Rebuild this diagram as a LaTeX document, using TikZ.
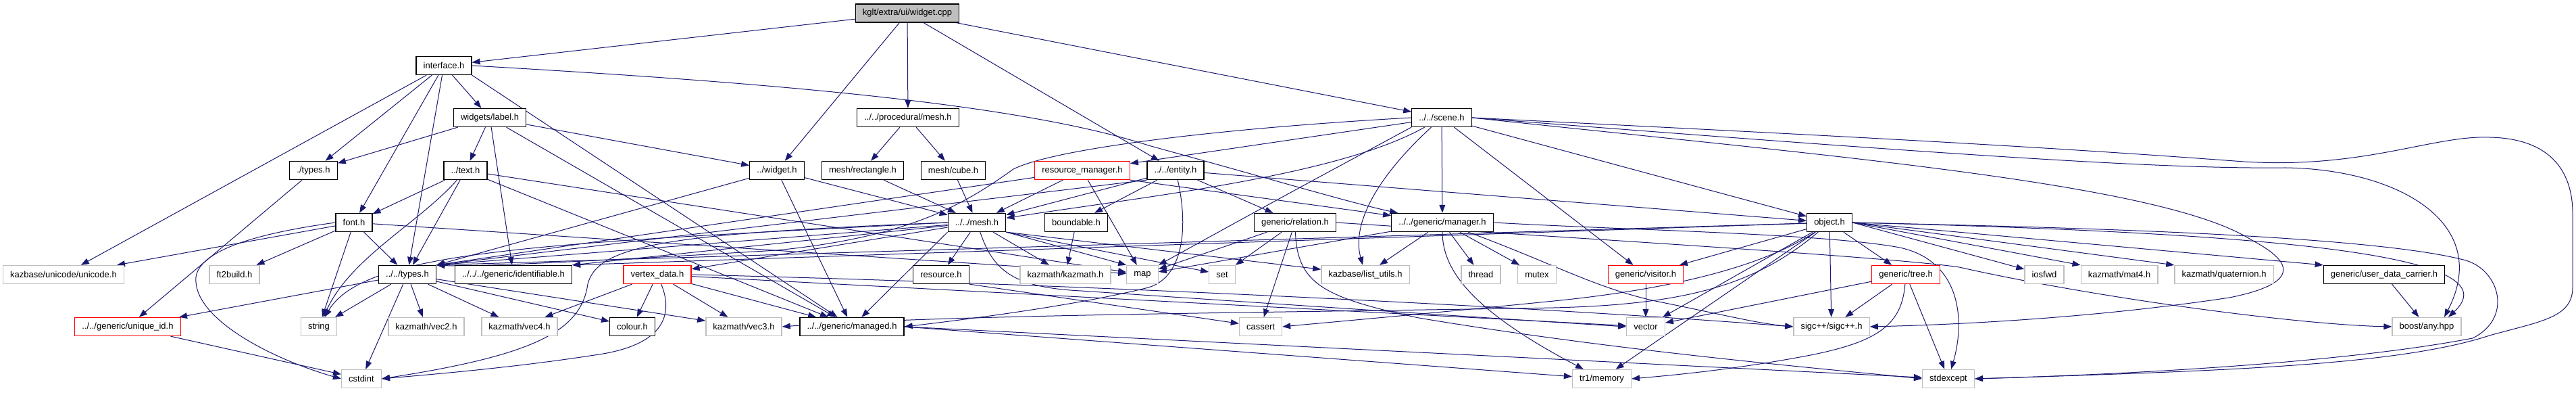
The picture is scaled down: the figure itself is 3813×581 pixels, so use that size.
\documentclass[tikz,border=0pt]{standalone}
\usepackage{fontspec}
\setmainfont{Liberation Sans}
\usetikzlibrary{arrows.meta,backgrounds}
\definecolor{edgeblue}{RGB}{25,25,112}
\definecolor{extgrey}{RGB}{191,191,191}
\definecolor{truncred}{RGB}{255,0,0}
\tikzset{
  hdr/.style={draw=black,line width=0.65pt,fill=white,minimum height=13.5pt,inner xsep=5.3pt,inner ysep=0pt,font=\fontsize{6.5pt}{7.5pt}\selectfont},
  ext/.style={hdr,draw=extgrey},
  trunc/.style={hdr,draw=truncred},
  root/.style={hdr,fill=extgrey},
  inc/.style={-{Triangle[length=6pt,width=4.4pt]},draw=edgeblue,line width=0.5pt}
}

\begin{document}
\begin{tikzpicture}[x=0.5pt,y=-0.5pt]
\useasboundingbox (0,0) rectangle (3813,581);
% rank 0-3
\node[root] (cpp) at (1343,19.5) {kglt/extra/ui/widget.cpp};
\node[hdr] (iface) at (657,97) {interface.h};
\node[hdr] (lbl) at (725,174) {widgets/label.h};
\node[hdr] (procmesh) at (1344,174) {../../procedural/mesh.h};
\node[hdr] (scene) at (2134,174) {../../scene.h};
\node[hdr] (ltypes) at (464,252) {./types.h};
\node[hdr] (txt) at (689,252) {../text.h};
\node[hdr] (widget) at (1150,252) {../widget.h};
\node[hdr] (rect) at (1277,252) {mesh/rectangle.h};
\node[hdr] (cube) at (1411,252) {mesh/cube.h};
\node[trunc] (resmgr) at (1602,252) {resource\_manager.h};
\node[hdr] (entity) at (1740,252) {../../entity.h};
% rank 4
\node[hdr] (fnt) at (524,329) {font.h};
\node[hdr] (mesh) at (1446,329) {../../mesh.h};
\node[hdr] (bound) at (1593,329) {boundable.h};
\node[hdr] (relation) at (1917,329) {generic/relation.h};
\node[hdr] (manager) at (2135,329) {../../generic/manager.h};
\node[hdr] (object) at (2708,329) {object.h};
% rank 5
\node[ext] (unicode) at (94,406) {kazbase/unicode/unicode.h};
\node[ext] (ft2) at (347,406) {ft2build.h};
\node[hdr] (types) at (603,406) {../../types.h};
\node[hdr] (ident) at (760,406) {../../../generic/identifiable.h};
\node[trunc] (vdata) at (973,406) {vertex\_data.h};
\node[hdr] (resource) at (1393,406) {resource.h};
\node[ext] (kazmath) at (1577,406) {kazmath/kazmath.h};
\node[ext] (smap) at (1691,406) {map};
\node[ext] (sset) at (1809,406) {set};
\node[ext] (listutils) at (2021,406) {kazbase/list\_utils.h};
\node[ext] (sthread) at (2192,406) {thread};
\node[ext] (smutex) at (2275,406) {mutex};
\node[trunc] (visitor) at (2436,406) {generic/visitor.h};
\node[trunc] (tree) at (2821,406) {generic/tree.h};
\node[ext] (siosfwd) at (3026,406) {iosfwd};
\node[ext] (mat4) at (3137,406) {kazmath/mat4.h};
\node[ext] (quat) at (3292,406) {kazmath/quaternion.h};
\node[hdr] (udc) at (3529,406) {generic/user\_data\_carrier.h};
% rank 6-7
\node[trunc] (uid) at (189,483) {../../generic/unique\_id.h};
\node[ext] (sstring) at (472,483) {string};
\node[ext] (vec2) at (631,483) {kazmath/vec2.h};
\node[ext] (vec4) at (769,483) {kazmath/vec4.h};
\node[hdr] (colour) at (936,483) {colour.h};
\node[ext] (vec3) at (1101,483) {kazmath/vec3.h};
\node[hdr] (managed) at (1261,483) {../../generic/managed.h};
\node[ext] (scassert) at (1866,483) {cassert};
\node[ext] (svector) at (2436,483) {vector};
\node[ext] (sigc) at (2711,483) {sigc++/sigc++.h};
\node[ext] (boost) at (3592,483) {boost/any.hpp};
\node[ext] (scstdint) at (535,560) {cstdint};
\node[ext] (smemory) at (2371,560) {tr1/memory};
\node[ext] (sstdexcept) at (2884,560) {stdexcept};

\begin{scope}[on background layer]
\draw[inc] (cpp)--(iface); \draw[inc] (cpp)--(widget); \draw[inc] (cpp)--(procmesh); \draw[inc] (cpp)--(entity); \draw[inc] (cpp)--(scene);
\draw[inc] (iface)--(unicode); \draw[inc] (iface)--(ltypes); \draw[inc] (iface)--(fnt); \draw[inc] (iface)--(types); \draw[inc] (iface)--(lbl);
\draw[inc] (iface.south east)--(managed);
\draw[inc] (iface.east) .. controls (1100,120) and (1500,150) .. (1700,215) .. controls (1900,270) and (2000,300) .. (manager);
\draw[inc] (lbl)--(ltypes); \draw[inc] (lbl)--(txt); \draw[inc] (lbl)--(ident); \draw[inc] (lbl)--(managed); \draw[inc] (lbl)--(widget);
\draw[inc] (procmesh)--(rect); \draw[inc] (procmesh)--(cube);
\draw[inc] (ltypes)--(uid);
\draw[inc] (txt)--(fnt); \draw[inc] (txt)--(types); \draw[inc] (txt)--(managed); \draw[inc] (txt)--(smap);
\draw[inc] (txt) .. controls (620,330) and (520,380) .. (sstring);
\draw[inc] (widget)--(types.north east); \draw[inc] (widget)--(managed); \draw[inc] (widget)--(mesh);
\draw[inc] (rect)--(mesh); \draw[inc] (cube)--(mesh);
\draw[inc] (resmgr)--(types.north east); \draw[inc] (resmgr)--(mesh); \draw[inc] (resmgr)--(smap); \draw[inc] (resmgr.south east)--(manager);
\draw[inc] (entity.south west)--(types.north east); \draw[inc] (entity)--(mesh); \draw[inc] (entity)--(bound); \draw[inc] (entity)--(relation); \draw[inc] (entity)--(object);
\draw[inc] (entity) .. controls (1760,340) and (1750,410) .. (1700,425) .. controls (1600,450) and (1450,470) .. (managed.east);
\draw[inc] (scene)--(resmgr); \draw[inc] (scene)--(manager); \draw[inc] (scene)--(visitor); \draw[inc] (scene)--(object);
\draw[inc] (scene.south west) .. controls (1900,290) .. (smap.north east);
\draw[inc] (scene) .. controls (2040,260) and (2000,330) .. (listutils);
\draw[inc] (scene) .. controls (1980,260) and (1700,290) .. (mesh);
\draw[inc] (scene.west) .. controls (1800,190) and (1560,220) .. (1500,250) .. controls (1430,300) and (1350,350) .. (1150,370) .. controls (900,385) and (700,395) .. (types.north east);
\draw[inc] (scene.east) .. controls (2700,200) and (3000,215) .. (3321,239) .. controls (3500,250) and (3600,200) .. (3685,203) .. controls (3790,205) and (3808,270) .. (3808,315) -- (3808,425) .. controls (3808,470) and (3760,475) .. (3685,496) .. controls (3550,540) and (3300,548) .. (sstdexcept.east);
\draw[inc] (scene.east) .. controls (2900,230) and (3200,250) .. (3382,248) .. controls (3550,250) and (3690,330) .. ([xshift=13pt]boost.north);
\draw[inc] (scene.east) .. controls (2700,230) and (3200,270) .. (3333,355) .. controls (3400,390) and (3400,420) .. (3300,440) .. controls (3100,470) and (2900,480) .. (sigc.east);
\draw[inc] (fnt)--(unicode); \draw[inc] (fnt)--(ft2); \draw[inc] (fnt)--(sstring); \draw[inc] (fnt)--(types); \draw[inc] (fnt)--(smap);
\draw[inc] (fnt.west) .. controls (380,345) and (295,370) .. (290,410) .. controls (285,470) and (400,530) .. (scstdint.west);
\draw[inc] (mesh)--(types.north east); \draw[inc] (mesh)--(ident.north east); \draw[inc] (mesh)--(vdata); \draw[inc] (mesh)--(resource); \draw[inc] (mesh)--(kazmath);
\draw[inc] (mesh.south east)--(smap.north west); \draw[inc] (mesh.south east)--(sset); \draw[inc] (mesh.south east)--(listutils); \draw[inc] (mesh.south west)--(managed);
\draw[inc] (mesh.west) .. controls (800,360) and (540,370) .. (sstring);
\draw[inc] (mesh.west) .. controls (1000,345) and (885,360) .. (870,420) .. controls (860,490) and (790,525) .. (scstdint.east);
\draw[inc] (mesh) .. controls (1470,400) and (1500,425) .. (1600,430) .. controls (1900,450) and (2200,470) .. (svector.west);
\draw[inc] (bound)--(kazmath);
\draw[inc] (relation)--(smap); \draw[inc] (relation)--(sset); \draw[inc] (relation)--(scassert);
\draw[inc] (relation) .. controls (1920,420) and (1960,440) .. (2100,470) .. controls (2400,520) and (2700,545) .. (sstdexcept.west);
\draw[inc] (relation.east) .. controls (2300,350) and (2800,380) .. (2900,395) .. controls (3100,440) and (3400,480) .. (boost.west);
\draw[inc] (manager)--(listutils); \draw[inc] (manager)--(sthread); \draw[inc] (manager)--(smutex); \draw[inc] (manager)--(smap);
\draw[inc] (manager) .. controls (2135,400) and (2180,460) .. (smemory);
\draw[inc] (manager) .. controls (2300,390) and (2360,425) .. (2450,445) .. controls (2550,465) and (2600,478) .. (sigc.west);
\draw[inc] (manager.east) .. controls (2400,340) and (2700,345) .. (2812,366) .. controls (2900,385) and (2910,470) .. (sstdexcept);
\draw[inc] (object)--(visitor); \draw[inc] (object)--(tree); \draw[inc] (object)--(sigc); \draw[inc] (object)--(svector); \draw[inc] (object)--(smemory);
\draw[inc] (object)--(types.north east); \draw[inc] (object)--(ident.north east);
\draw[inc] (object.east)--(siosfwd); \draw[inc] (object.east)--(mat4.north west); \draw[inc] (object.east)--(quat.north west); \draw[inc] (object.east)--(udc.north west);
\draw[inc] (object) .. controls (2600,400) and (2450,430) .. (2300,445) .. controls (2100,465) and (1950,478) .. (scassert.east);
\draw[inc] (object) .. controls (2600,420) and (2500,450) .. (2300,455) .. controls (1900,462) and (1400,465) .. (vec3.east);
\draw[inc] (object.east) .. controls (3400,345) and (3720,380) .. ([xshift=16pt]boost.north);
\draw[inc] (object.east) .. controls (3000,335) and (3500,345) .. (3650,385) .. controls (3700,400) and (3720,470) .. (3660,500) .. controls (3450,540) and (3100,555) .. (sstdexcept.east);
\draw[inc] (tree)--(svector); \draw[inc] (tree)--(sigc); \draw[inc] (tree)--(sstdexcept);
\draw[inc] (tree) .. controls (2815,480) and (2780,505) .. (2680,525) .. controls (2560,548) and (2460,556) .. (smemory.east);
\draw[inc] (visitor)--(svector); \draw[inc] (udc)--(boost);
\draw[inc] (vdata)--(vec4); \draw[inc] (vdata)--(colour); \draw[inc] (vdata)--(vec3); \draw[inc] (vdata)--(managed); \draw[inc] (vdata)--(svector);
\draw[inc] (vdata.east) .. controls (1600,420) and (2300,455) .. (sigc.west);
\draw[inc] (vdata) .. controls (995,460) and (990,510) .. (880,525) .. controls (750,545) and (620,555) .. (scstdint.east);
\draw[inc] (types)--(uid); \draw[inc] (types)--(sstring); \draw[inc] (types)--(vec2); \draw[inc] (types)--(vec4); \draw[inc] (types)--(colour); \draw[inc] (types)--(vec3); \draw[inc] (types)--(scstdint);
\draw[inc] (uid)--(scstdint);
\draw[inc] (resource.south east)--(scassert);
\draw[inc] (managed.east)--(smemory); \draw[inc] (managed.east)--(sstdexcept);
\end{scope}
\end{tikzpicture}
\end{document}
